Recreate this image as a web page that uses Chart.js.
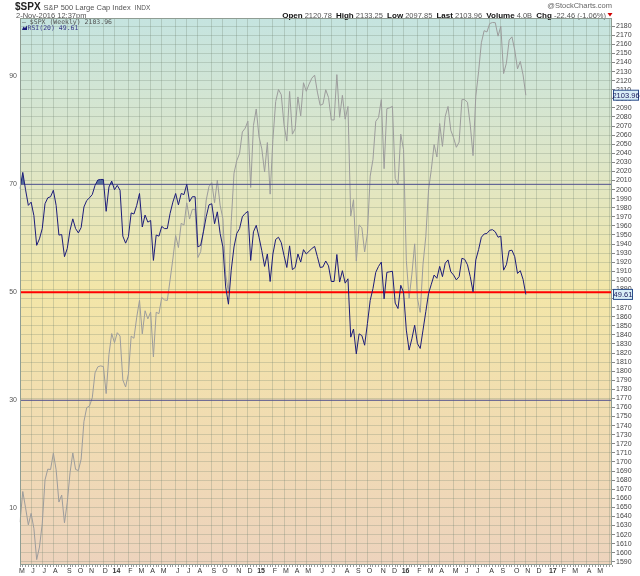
<!DOCTYPE html>
<html>
<head>
<meta charset="utf-8">
<script src="https://cdn.jsdelivr.net/npm/chart.js@4.4.1/dist/chart.umd.min.js"></script>
<style>
  html, body { margin: 0; padding: 0; background: #fff; }
</style>
</head>
<body>
<canvas id="spxChart" width="640" height="576"></canvas>
<script>
// weekly axis: first week on the chart and how many weeks the x axis spans
const startWeek = "2013-05-10";
const axisWeeks = 214;

// month letters shown under the axis, in order
const monthTicks = ["M","J","J","A","S","O","N","D","14","F","M","A","M","J","J","A","S","O","N","D",
  "15","F","M","A","M","J","J","A","S","O","N","D","16","F","M","A","M","J","J","A","S","O","N","D",
  "17","F","M","A","M"];
const yearTicks = ["14", "15", "16", "17"];

// $SPX weekly closes
const closes = [
  1633.70, 1667.47, 1649.60, 1630.74, 1643.38, 1626.73, 1592.43, 1606.28, 1631.89, 1680.19,
  1692.09, 1691.65, 1709.67, 1691.42, 1655.83, 1663.50, 1632.97, 1655.17, 1687.99, 1709.91,
  1691.75, 1690.50, 1703.20, 1744.50, 1759.77, 1761.64, 1770.61, 1798.18, 1804.76, 1805.81,
  1805.09, 1775.32, 1818.32, 1841.40, 1831.37, 1842.37, 1838.70, 1790.29, 1782.59, 1797.02,
  1838.63, 1836.25, 1859.45, 1878.04, 1841.13, 1866.52, 1857.62, 1865.09, 1815.69, 1864.85,
  1863.40, 1881.14, 1878.48, 1877.86, 1900.53, 1923.57, 1949.44, 1936.16, 1962.87, 1960.96,
  1985.44, 1967.57, 1978.22, 1978.34, 1925.15, 1931.59, 1955.06, 1988.40, 2003.37, 2007.71,
  1985.54, 2010.40, 1982.85, 1967.90, 1906.13, 1886.76, 1964.58, 2018.05, 2031.92, 2039.82,
  2063.50, 2067.56, 2075.37, 2002.33, 2070.65, 2088.77, 2058.20, 2044.81, 2019.42, 2051.82,
  1994.99, 2055.47, 2096.99, 2110.30, 2104.50, 2071.26, 2053.40, 2108.10, 2061.02, 2066.96,
  2102.06, 2081.18, 2117.69, 2108.29, 2116.10, 2122.73, 2126.06, 2107.39, 2092.83, 2094.11,
  2109.99, 2101.49, 2076.78, 2076.62, 2126.64, 2079.65, 2103.84, 2077.57, 2091.54, 1970.89,
  1988.87, 1921.22, 1961.05, 1958.03, 1931.34, 1951.36, 2014.89, 2033.11, 2075.15, 2079.36,
  2099.20, 2023.04, 2089.17, 2090.11, 2091.69, 2012.37, 2005.55, 2060.99, 2043.94, 1922.03,
  1880.33, 1906.90, 1940.24, 1880.05, 1864.78, 1917.78, 1948.05, 1999.99, 2022.19, 2049.58,
  2035.94, 2072.78, 2047.60, 2080.73, 2091.58, 2065.30, 2057.14, 2046.61, 2052.32, 2099.06,
  2099.13, 2096.07, 2071.22, 2037.41, 2102.95, 2129.90, 2161.74, 2175.03, 2173.60, 2182.87,
  2184.05, 2183.87, 2169.04, 2179.98, 2127.81, 2139.16, 2164.69, 2168.27, 2153.74, 2132.98,
  2141.16, 2126.41, 2103.96
];

// RSI(20)
const rsi20 = [
  69.2, 72.2, 69.0, 66.1, 66.7, 64.2, 58.7, 59.9, 61.8, 66.4,
  67.5, 67.7, 68.9, 66.1, 60.6, 60.7, 56.6, 58.1, 61.5, 63.6,
  61.8, 61.0, 62.0, 65.8, 67.0, 67.5, 68.1, 69.8, 70.8, 70.9,
  70.9, 65.0, 69.5, 70.6, 69.0, 69.8, 68.9, 60.4, 59.1, 60.3,
  64.7, 64.5, 66.1, 68.3, 62.1, 64.3, 63.0, 63.3, 55.9, 60.6,
  60.4, 62.2, 61.8, 61.8, 64.6, 66.7, 68.3, 66.2, 68.3, 68.1,
  70.0, 66.8, 67.7, 67.7, 58.4, 58.7, 61.2, 64.0, 66.2, 66.4,
  62.7, 64.9, 60.9, 58.4, 51.0, 47.8, 54.1, 58.4, 60.9, 61.8,
  64.0, 64.6, 65.0, 55.9, 61.2, 62.4, 60.2, 57.7, 54.8, 57.1,
  52.0, 57.1, 59.8, 60.2, 59.2, 56.8, 54.6, 58.6, 54.2, 54.6,
  57.1, 55.6, 57.9, 57.1, 57.6, 58.1, 58.5, 56.6, 54.6, 54.7,
  55.8, 54.9, 52.0, 52.0, 57.0, 51.9, 54.0, 51.7, 52.5, 41.7,
  43.2, 38.6, 42.3, 42.0, 40.2, 44.2, 48.5, 50.7, 53.7, 54.8,
  55.6, 48.8, 53.7, 53.8, 53.9, 48.0, 47.0, 51.3, 50.0, 43.0,
  39.3, 41.4, 43.9, 40.5, 39.6, 43.0, 46.4, 49.8, 51.5, 53.2,
  52.6, 54.8, 52.9, 55.4, 56.0, 53.8, 53.2, 52.3, 52.9, 56.3,
  56.1, 55.1, 52.9, 50.1, 56.0, 57.9, 60.2, 60.8, 60.9, 61.5,
  61.6, 61.2, 60.2, 60.4, 54.1, 55.1, 57.7, 57.8, 56.6, 53.5,
  54.0, 52.4, 49.6
];

const rsiTicks = [10, 30, 50, 70, 90];
const lastClose = 2103.96;
const lastRsi = 49.61;

const FONT = '"Liberation Sans", Arial, sans-serif';

// category labels, one per week
const weeks = [];
const t0 = new Date(startWeek + "T12:00:00Z").getTime();
for (let i = 0; i < axisWeeks; i++) {
  weeks.push(new Date(t0 + i * 7 * 86400000).toISOString().slice(0, 10));
}
// first week of each month gets the next month letter
const monthAt = {};
let mi = 0;
weeks.forEach((w, i) => {
  if (i === 0 || w.slice(5, 7) !== weeks[i - 1].slice(5, 7)) monthAt[i] = monthTicks[mi++] || "";
});

const refLine = (v, color, width) => ({
  data: [{ x: weeks[0], y: v }, { x: weeks[axisWeeks - 1], y: v }],
  yAxisID: "yr",
  borderColor: color,
  borderWidth: width,
  pointRadius: 0,
  fill: false,
  order: 2,
});

function valueBox(ctx, x, y, w, text) {
  ctx.fillStyle = "#d9eef7";
  ctx.strokeStyle = "#2c4f8c";
  ctx.lineWidth = 1;
  ctx.fillRect(x, y - 5, w, 10);
  ctx.strokeRect(x, y - 5, w, 10);
  ctx.fillStyle = "#1a1a5a";
  ctx.font = "7.5px " + FONT;
  ctx.textAlign = "center";
  ctx.textBaseline = "middle";
  ctx.fillText(text, x + w / 2, y + 0.5);
}

const stockcharts = {
  id: "stockcharts",
  beforeDraw(chart) {
    const { ctx, chartArea: a } = chart;
    const g = ctx.createLinearGradient(0, a.top, 0, a.bottom);
    g.addColorStop(0, "#c5e4e0");
    g.addColorStop(0.25, "#dde6c9");
    g.addColorStop(0.5, "#f3e6a8");
    g.addColorStop(0.75, "#f1dcb2");
    g.addColorStop(1, "#edd3bd");
    ctx.save();
    ctx.fillStyle = g;
    ctx.fillRect(a.left, a.top, a.width, a.height);
    ctx.restore();
  },
  afterDraw(chart) {
    const { ctx, chartArea: a } = chart;
    ctx.save();
    ctx.textBaseline = "alphabetic";
    ctx.textAlign = "left";
    ctx.fillStyle = "#222";
    ctx.font = "bold 10px " + FONT;
    ctx.fillText("$SPX", 15, 10);
    let hx = 15 + ctx.measureText("$SPX").width + 3;
    ctx.fillStyle = "#555";
    ctx.font = "7.5px " + FONT;
    ctx.fillText("S&P 500 Large Cap Index", hx, 10);
    hx += ctx.measureText("S&P 500 Large Cap Index").width + 4;
    ctx.font = "6.5px " + FONT;
    ctx.fillText("INDX", hx, 10);
    ctx.font = "7.5px " + FONT;
    ctx.fillText("2-Nov-2016 12:37pm", 16, 17.5);

    ctx.textAlign = "right";
    ctx.fillStyle = "#666";
    ctx.fillText("@StockCharts.com", 612, 8);

    // quote line, bold captions
    const parts = [["Open", 1], [" 2120.78  ", 0], ["High", 1], [" 2133.25  ", 0], ["Low", 1],
      [" 2097.85  ", 0], ["Last", 1], [" 2103.96  ", 0], ["Volume", 1], [" 4.0B  ", 0],
      ["Chg", 1], [" -22.46 (-1.06%)", 0]];
    ctx.textAlign = "left";
    let w = 0;
    parts.forEach(([s, b]) => { ctx.font = (b ? "bold 8px " : "7.5px ") + FONT; w += ctx.measureText(s).width; });
    let x = 606 - w;
    parts.forEach(([s, b]) => {
      ctx.font = (b ? "bold 8px " : "7.5px ") + FONT;
      ctx.fillStyle = b ? "#111" : "#555";
      ctx.fillText(s, x, 17.5);
      x += ctx.measureText(s).width;
    });
    ctx.fillStyle = "#d00000";
    ctx.beginPath();
    ctx.moveTo(607.5, 13); ctx.lineTo(612.5, 13); ctx.lineTo(610, 16.5); ctx.closePath();
    ctx.fill();

    // in-chart legend
    ctx.font = '6.5px "DejaVu Sans Mono", monospace';
    ctx.fillStyle = "#555";
    ctx.fillText("\u2014 $SPX (Weekly) 2103.96", 22, 23.5);
    ctx.fillStyle = "#1c1c7a";
    ctx.beginPath();
    ctx.moveTo(22, 30); ctx.lineTo(23.5, 26.5); ctx.lineTo(25, 28); ctx.lineTo(27, 25.5); ctx.lineTo(27, 30);
    ctx.closePath(); ctx.fill();
    ctx.fillStyle = "#3a3a8a";
    ctx.fillText("RSI(20) " + lastRsi.toFixed(2), 27.5, 30);

    // plot frame
    ctx.strokeStyle = "#8f9d93";
    ctx.lineWidth = 1;
    ctx.strokeRect(a.left + 0.5, a.top + 0.5, a.width - 1, a.height - 1);

    // last value markers on the right axis
    valueBox(ctx, 613.5, chart.scales.yp.getPixelForValue(lastClose), 25, lastClose.toFixed(2));
    valueBox(ctx, 613.5, chart.scales.yr.getPixelForValue(lastRsi), 19, lastRsi.toFixed(2));
    ctx.restore();
  },
};

new Chart(document.getElementById("spxChart"), {
  type: "line",
  data: {
    labels: weeks,
    datasets: [
      {
        label: "$SPX (Weekly)",
        data: closes,
        yAxisID: "yp",
        borderColor: "#9c9c9c",
        borderWidth: 1,
        pointRadius: 0,
        tension: 0,
        fill: false,
        order: 3,
      },
      refLine(70, "#50508e", 1),
      refLine(30, "#50508e", 1),
      refLine(50, "#ff0000", 2),
      {
        label: "RSI(20)",
        data: rsi20,
        yAxisID: "yr",
        borderColor: "#1c1c7a",
        borderWidth: 1,
        pointRadius: 0,
        tension: 0,
        fill: { target: { value: 70 }, above: "rgba(62,90,148,0.85)", below: "rgba(0,0,0,0)" },
        order: 1,
      },
    ],
  },
  options: {
    responsive: false,
    animation: false,
    layout: { padding: { top: 18, left: 0, right: 0, bottom: 0 } },
    plugins: { legend: { display: false }, tooltip: { enabled: false } },
    scales: {
      x: {
        type: "category",
        offset: false,
        afterFit: (s) => { s.height = 11; },
        grid: {
          color: (c) => (c.index in monthAt ? "rgba(110,128,110,0.28)" : "rgba(0,0,0,0)"),
          tickColor: "#9a9a9a",
          tickLength: 2,
        },
        border: { display: false },
        ticks: {
          autoSkip: false,
          maxRotation: 0,
          minRotation: 0,
          padding: 0,
          labelOffset: 2,
          color: "#333",
          font: (c) => ({
            family: FONT,
            size: 7,
            weight: yearTicks.includes(monthAt[c.index]) ? "bold" : "normal",
          }),
          callback: (v, i) => monthAt[i] || "",
        },
      },
      yr: {
        position: "left",
        min: -0.5,
        max: 100.8,
        afterFit: (s) => { s.width = 20; },
        afterBuildTicks: (s) => { s.ticks = rsiTicks.map((v) => ({ value: v })); },
        grid: { display: false, drawTicks: false },
        border: { display: false },
        ticks: { color: "#555", padding: 3, font: { family: FONT, size: 7 } },
      },
      yp: {
        position: "right",
        min: 1586.5,
        max: 2189,
        afterFit: (s) => { s.width = 28; },
        afterBuildTicks: (s) => {
          const t = [];
          for (let v = 1590; v <= 2180; v += 10) t.push({ value: v });
          s.ticks = t;
        },
        grid: { color: "rgba(110,128,110,0.26)", tickColor: "#888", tickLength: 3 },
        border: { display: false },
        ticks: {
          autoSkip: false,
          color: "#444",
          padding: 1,
          font: { family: FONT, size: 7 },
          callback: (v) => String(v),
        },
      },
    },
  },
  plugins: [stockcharts],
});
</script>
</body>
</html>
